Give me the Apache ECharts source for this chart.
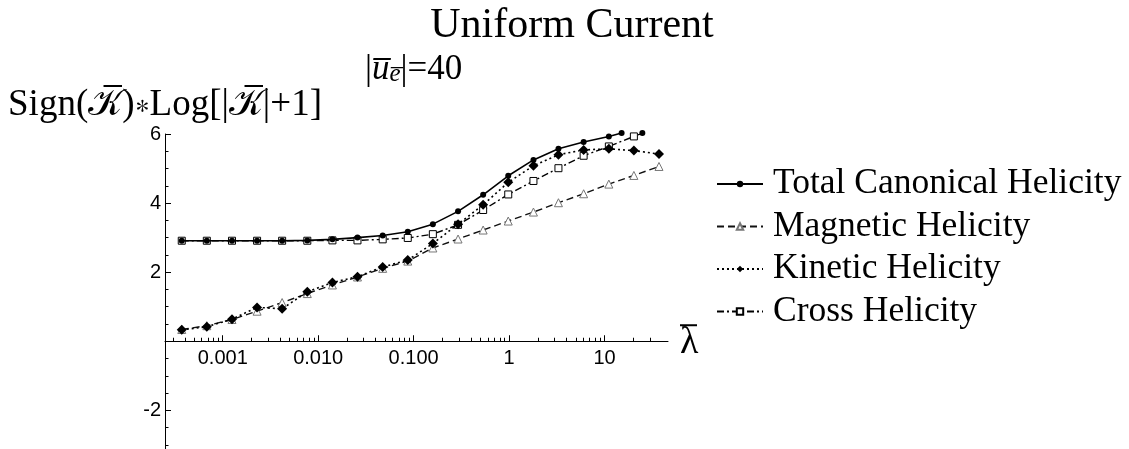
<!DOCTYPE html>
<html>
<head>
<meta charset="utf-8">
<script src="https://cdn.jsdelivr.net/npm/echarts@6/dist/echarts.min.js"></script>
<style>html,body{margin:0;padding:0;background:#fff;}#c{width:1129px;height:449px;}</style>
</head>
<body>
<div id="c"></div>
<script>
// λ values (shared sampling)
const lambdaVals = [0.000372, 0.000681, 0.00125, 0.00229, 0.00419, 0.00769, 0.0141, 0.0258, 0.0474, 0.0868,
                    0.159, 0.292, 0.535, 0.980, 1.80, 3.29, 6.04, 11.1, 20.3, 37.2];
// Total canonical helicity: last visible marks sit on the clipped top edge
const totalLambda = [0.000372, 0.000681, 0.00125, 0.00229, 0.00419, 0.00769, 0.0141, 0.0258, 0.0474, 0.0868,
                     0.159, 0.292, 0.535, 0.980, 1.80, 3.29, 6.04, 11.1, 15.1, 19.5, 24.9];
const totalVals = [2.91, 2.91, 2.91, 2.91, 2.91, 2.92, 2.95, 3.00, 3.06, 3.17,
                   3.39, 3.76, 4.24, 4.79, 5.25, 5.57, 5.77, 5.93, 6.03, '-', 6.03];
const magneticVals = [0.34, 0.45, 0.63, 0.87, 1.12, 1.38, 1.63, 1.86, 2.11, 2.32,
                      2.70, 2.96, 3.22, 3.48, 3.74, 4.01, 4.27, 4.55, 4.80, 5.06];
const kineticVals = [0.33, 0.42, 0.64, 0.98, 0.94, 1.43, 1.70, 1.87, 2.15, 2.35,
                     2.83, 3.39, 3.95, 4.60, 5.08, 5.40, 5.54, 5.57, 5.52, 5.42];
const crossVals = [2.91, 2.91, 2.91, 2.91, 2.91, 2.91, 2.92, 2.92, 2.95, 2.99,
                   3.10, 3.37, 3.80, 4.25, 4.64, 5.01, 5.37, 5.64, 5.93, 6.20];
const seriesNames = ['Total Canonical Helicity', 'Magnetic Helicity', 'Kinetic Helicity', 'Cross Helicity'];
// tick marks
const xMajorTicks = [0.001, 0.01, 0.1, 1, 10];
const xTickLabels = ['0.001', '0.010', '0.100', '1', '10'];
const xMinorTicks = [0.0003, 0.0004, 0.0005, 0.0006, 0.0007, 0.0008, 0.0009,
                     0.002, 0.003, 0.004, 0.005, 0.006, 0.007, 0.008, 0.009,
                     0.02, 0.03, 0.04, 0.05, 0.06, 0.07, 0.08, 0.09,
                     0.2, 0.3, 0.4, 0.5, 0.6, 0.7, 0.8, 0.9,
                     2, 3, 4, 5, 6, 7, 8, 9, 20, 30];
const yMajorTicks = [-2, 2, 4, 6];
const yTickLabels = ['-2', '2', '4', '6'];
const yMinorTicks = [-3, -2.5, -1.5, -1, -0.5, 0.5, 1, 1.5, 2.5, 3, 3.5, 4.5, 5, 5.5];

const L = v => Math.log10(v);
const pair = (xs, ys) => ys.map((y, i) => [L(xs[i]), y]);

const serif = 'Liberation Serif';
const sans = 'Liberation Sans';

const chart = echarts.init(document.getElementById('c'), null, {renderer: 'canvas'});
const xMin = -3.605, xMax = 1.665;
const yMin = -3.12, yMax = 6;
const plotH = 315;
const upperH = plotH * (yMax - 0) / (yMax - yMin);  // part of the plot above y = 0

const option = {
  animation: false,
  backgroundColor: '#fff',
  title: [
    {text: 'Uniform Current', left: 567, top: 0, textAlign: 'center',
     textStyle: {fontFamily: serif, fontSize: 42, fontWeight: 'normal', color: '#000'}},
    {text: '{n||}{u|u\u0305}{e|e\u0305}{n||=40}', left: 360, top: 47,
     textStyle: {fontFamily: serif, fontSize: 35, fontWeight: 'normal', color: '#000',
       rich: {
         n: {fontFamily: serif, fontSize: 35, color: '#000', verticalAlign: 'top', lineHeight: 35},
         u: {fontFamily: serif, fontSize: 35, fontStyle: 'italic', color: '#000', verticalAlign: 'top', lineHeight: 35},
         e: {fontFamily: serif, fontSize: 25, fontStyle: 'italic', color: '#000', verticalAlign: 'bottom', lineHeight: 25}
       }}}
  ],
  grid: [
    {left: 165, top: 134, width: 503, height: plotH, outerBoundsMode: 'none', containLabel: false},
    {left: 165, top: 134, width: 503, height: upperH, outerBoundsMode: 'none', containLabel: false}
  ],
  legend: {
    orient: 'vertical', left: 711, top: 161, itemWidth: 46, itemHeight: 8, itemGap: 6.5,
    data: seriesNames,
    textStyle: {fontFamily: serif, fontSize: 35.5, color: '#000', padding: [0, 0, 0, 5]}
  },
  xAxis: [
    {type: 'value', gridIndex: 0, min: xMin, max: xMax, show: false, splitLine: {show: false}},
    {type: 'value', gridIndex: 1, min: xMin, max: xMax, position: 'bottom',
     name: '{bar| }\n{lam|\u03bb}', nameLocation: 'end', nameGap: 12,
     nameTextStyle: {fontFamily: serif, fontSize: 38, color: '#000', verticalAlign: 'middle', align: 'left',
       rich: {
         bar: {fontSize: 2, lineHeight: 3, width: 17, height: 2, backgroundColor: '#000'},
         lam: {fontFamily: serif, fontSize: 38, lineHeight: 32, color: '#000'}
       }},
     axisLine: {onZero: false, lineStyle: {color: '#000', width: 1}},
     axisTick: {show: true, inside: true, length: 6, customValues: xMajorTicks.map(L), lineStyle: {color: '#000'}},
     axisLabel: {customValues: xMajorTicks.map(L), margin: 7, fontFamily: sans, fontSize: 20, color: '#000',
       formatter: v => { let best = 0; xMajorTicks.forEach((t, i) => { if (Math.abs(L(t) - v) < Math.abs(L(xMajorTicks[best]) - v)) best = i; }); return xTickLabels[best]; }},
     splitLine: {show: false}},
    {type: 'value', gridIndex: 1, min: xMin, max: xMax, position: 'bottom',
     axisLine: {show: false, onZero: false},
     axisTick: {show: true, inside: true, length: 3.5, customValues: xMinorTicks.map(L), lineStyle: {color: '#000'}},
     axisLabel: {show: false},
     splitLine: {show: false}}
  ],
  yAxis: [
    {type: 'value', gridIndex: 0, min: yMin, max: yMax, position: 'left',
     name: 'Sign(\ud835\udca6\u0305)\u2217Log[|\ud835\udca6\u0305|+1]', nameLocation: 'end', nameGap: 0,
     nameTextStyle: {fontFamily: serif, fontSize: 37, color: '#000', align: 'center'},
     axisLine: {onZero: false, lineStyle: {color: '#000', width: 1}},
     axisTick: {show: true, inside: true, length: 6, customValues: yMajorTicks, lineStyle: {color: '#000'}},
     axisLabel: {customValues: yMajorTicks, margin: 4, fontFamily: sans, fontSize: 20, color: '#000',
       formatter: v => { const i = yMajorTicks.indexOf(v); return i >= 0 ? yTickLabels[i] : ''; }},
     splitLine: {show: false}},
    {type: 'value', gridIndex: 0, min: yMin, max: yMax, position: 'left',
     axisLine: {show: false, onZero: false},
     axisTick: {show: true, inside: true, length: 3.5, customValues: yMinorTicks, lineStyle: {color: '#000'}},
     axisLabel: {show: false},
     splitLine: {show: false}},
    {type: 'value', gridIndex: 1, min: 0, max: yMax, show: false, splitLine: {show: false}}
  ],
  series: [
    {name: seriesNames[0], type: 'line', xAxisIndex: 0, yAxisIndex: 0, data: pair(totalLambda, totalVals), clip: false,
     symbol: 'circle', symbolSize: 6, connectNulls: false,
     lineStyle: {color: '#000', width: 1.6, type: 'solid'},
     itemStyle: {color: '#000'}, z: 5},
    {name: seriesNames[1], type: 'line', xAxisIndex: 0, yAxisIndex: 0, data: pair(lambdaVals, magneticVals),
     symbol: 'triangle', symbolSize: 8,
     lineStyle: {color: '#111', width: 1.4, type: [7, 4]},
     itemStyle: {color: '#fff', borderColor: '#777', borderWidth: 1}, z: 2},
    {name: seriesNames[2], type: 'line', xAxisIndex: 0, yAxisIndex: 0, data: pair(lambdaVals, kineticVals),
     symbol: 'diamond', symbolSize: 10,
     lineStyle: {color: '#000', width: 1.6, type: [2, 3]},
     itemStyle: {color: '#000'}, z: 4},
    {name: seriesNames[3], type: 'line', xAxisIndex: 0, yAxisIndex: 0, data: pair(lambdaVals, crossVals), clip: true,
     symbol: 'rect', symbolSize: 7,
     lineStyle: {color: '#000', width: 1.4, type: [7, 3, 2, 3]},
     itemStyle: {color: '#fff', borderColor: '#000', borderWidth: 1}, z: 3}
  ]
};
chart.setOption(option);
</script>
</body>
</html>
